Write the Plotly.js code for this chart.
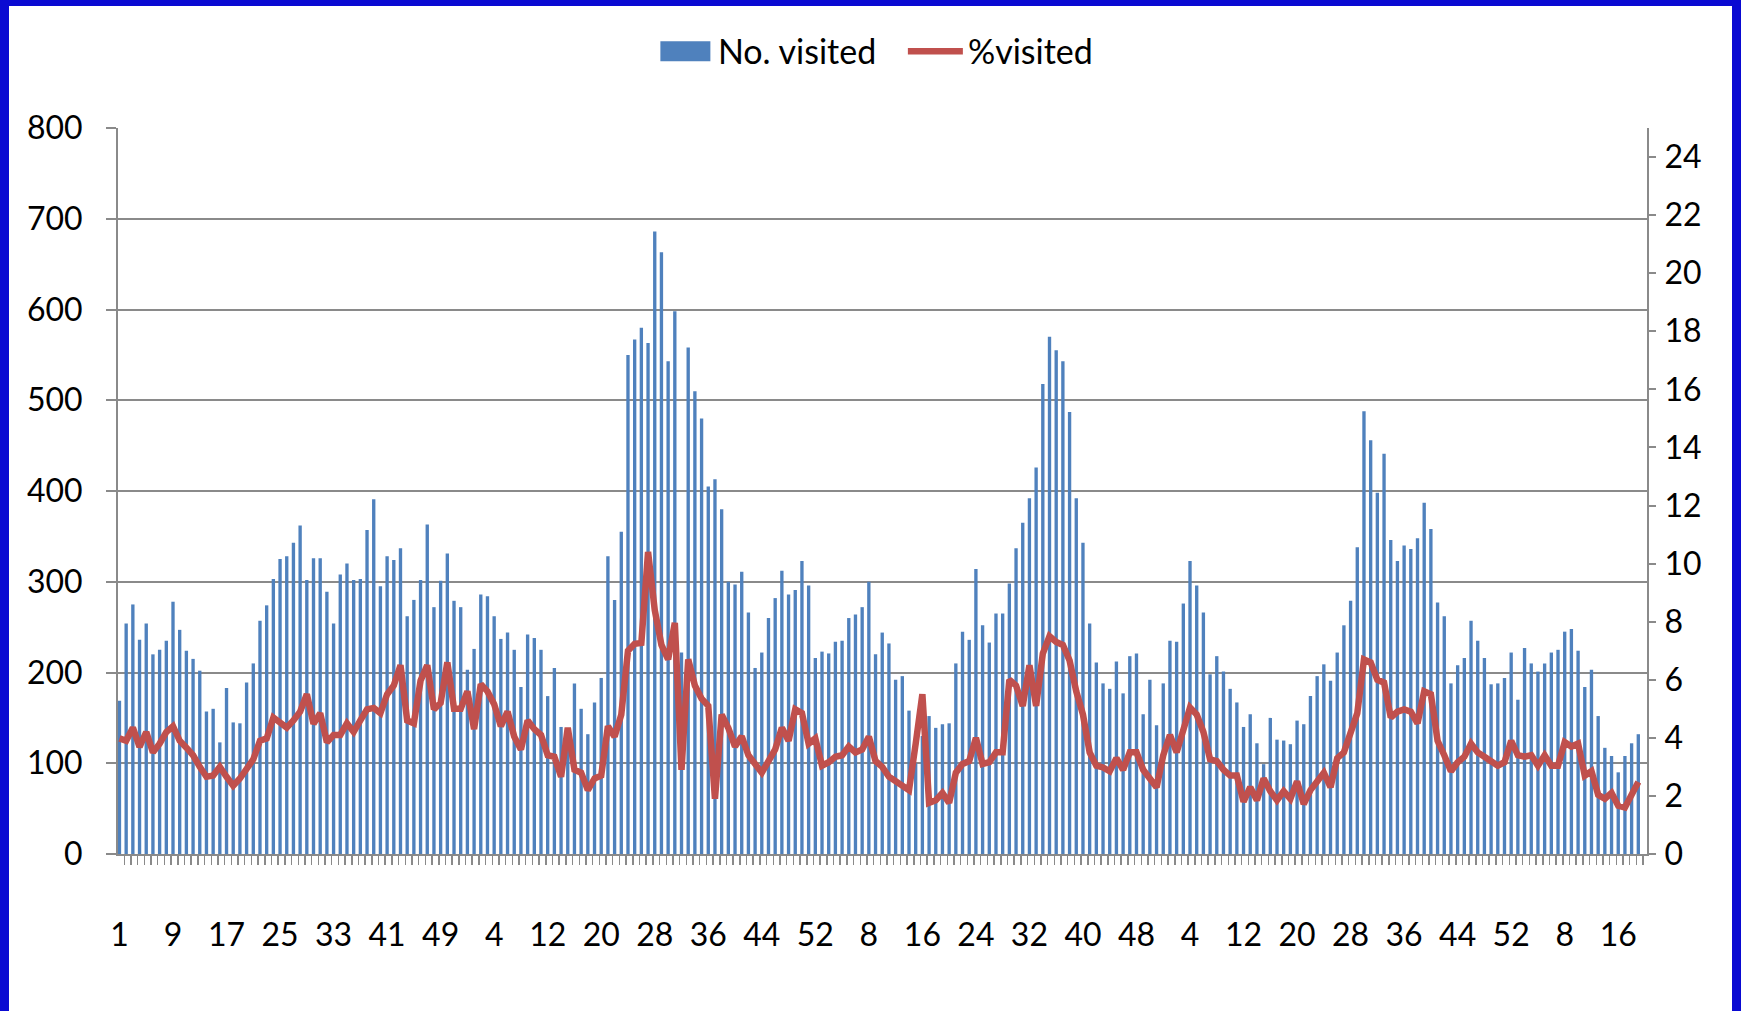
<!DOCTYPE html>
<html>
<head>
<meta charset="utf-8">
<script src="https://cdn.plot.ly/plotly-3.0.1.min.js"></script>
<style>
  html, body { margin: 0; padding: 0; background: #ffffff; }
  #wrap { position: relative; width: 1741px; height: 1011px; overflow: hidden; }
  #chart { position: absolute; left: 0; top: 0; width: 1741px; height: 1011px; }
  #frame { position: absolute; left: 0; top: 0; width: 1741px; height: 1011px; box-sizing: border-box;
           border-left: 9px solid #0a0ad2; border-right: 9px solid #0a0ad2; border-top: 6px solid #0a0ad2;
           pointer-events: none; }
</style>
</head>
<body>
<div id="wrap">
  <div id="chart"></div>
  <div id="frame"></div>
</div>
<script>
// Weeks per year segment shown on the category axis (53-week first year, partial last year)
const yearLengths = [53, 52, 52, 52, 19];

// Tick labels shown every 8th week
const tickLabels = ["1","9","17","25","33","41","49","4","12","20","28","36","44","52",
                    "8","16","24","32","40","48","4","12","20","28","36","44","52","8","16"];

// No. visited (left axis)
const visited = [
  169,254,275,236,254,220,225,235,278,247,224,215,202,157,160,123,183,145,144,189,
  210,257,274,303,325,328,343,362,302,326,326,289,254,308,320,302,303,357,391,295,
  328,324,337,262,280,302,363,272,301,331,279,272,203,226,286,284,262,237,244,225,
  184,242,238,225,174,205,140,120,188,160,132,167,194,328,280,355,550,567,580,563,
  686,663,543,598,222,558,510,480,405,413,380,300,297,311,266,205,222,260,282,312,
  286,291,323,296,216,223,221,234,235,260,264,272,300,220,244,232,192,196,158,100,
  130,152,139,143,144,210,245,236,314,252,233,265,265,298,337,365,392,426,518,570,
  555,543,487,392,343,254,211,188,182,212,177,218,221,154,192,142,188,235,234,276,
  323,296,266,198,218,201,182,167,140,154,122,99,150,126,125,121,147,143,174,196,
  209,191,222,252,279,338,488,456,398,441,346,323,340,336,348,387,358,277,262,188,
  208,216,257,235,216,187,188,194,222,170,227,210,201,210,222,225,245,248,224,184,
  203,152,117,108,90,108,122,132
];

// %visited (right axis)
const pctVisited = [
  3.98,3.9,4.35,3.69,4.2,3.5,3.8,4.2,4.4,3.9,3.66,3.4,3.0,2.66,2.7,3.0,2.66,2.35,2.6,2.9,
  3.26,3.9,3.98,4.7,4.5,4.35,4.6,4.9,5.5,4.48,4.85,3.85,4.1,4.1,4.5,4.2,4.6,4.98,5.03,4.85,
  5.5,5.8,6.5,4.6,4.5,5.97,6.5,4.98,5.2,6.6,5.0,5.0,5.6,4.3,5.85,5.6,5.16,4.4,4.9,4.04,
  3.6,4.6,4.3,4.1,3.4,3.35,2.66,4.35,2.9,2.8,2.2,2.6,2.7,4.4,4.04,4.8,7.0,7.24,7.27,10.4,
  8.4,7.2,6.7,7.96,2.9,6.7,5.8,5.35,5.1,1.9,4.8,4.34,3.7,4.05,3.4,3.1,2.8,3.2,3.6,4.35,
  3.9,4.98,4.85,3.8,3.98,3.04,3.16,3.35,3.4,3.7,3.5,3.6,4.04,3.2,3.0,2.66,2.5,2.4,2.2,3.8,
  5.5,1.76,1.85,2.1,1.76,2.8,3.1,3.2,4.0,3.1,3.16,3.5,3.5,6.0,5.8,5.1,6.5,5.1,6.9,7.5,
  7.3,7.2,6.66,5.6,4.8,3.5,3.04,2.98,2.85,3.3,2.9,3.5,3.5,2.9,2.6,2.3,3.4,4.1,3.5,4.3,
  5.04,4.8,4.2,3.26,3.2,2.9,2.7,2.7,1.8,2.3,1.85,2.6,2.16,1.85,2.16,1.9,2.5,1.72,2.2,2.5,
  2.8,2.3,3.3,3.5,4.2,4.85,6.7,6.6,6.0,5.9,4.7,4.9,4.98,4.9,4.5,5.6,5.5,3.9,3.4,2.85,
  3.16,3.35,3.8,3.5,3.35,3.16,3.04,3.16,3.9,3.4,3.35,3.4,3.04,3.4,3.04,3.04,3.85,3.7,3.8,2.7,
  2.85,2.04,1.9,2.1,1.66,1.6,2.0,2.48
];

// Sequential position of each week on the axis
const xIndex = [];
let k = 0;
yearLengths.forEach(n => { for (let w = 0; w < n; w++) { xIndex.push(k); k++; } });
const tickVals = tickLabels.map((_, i) => i * 8);

const FONT = "Lato, 'Open Sans', 'DejaVu Sans', sans-serif";
const GRID = "#8a8a8a";

const traces = [
  {
    type: "bar", name: "No. visited", x: xIndex, y: visited,
    marker: { color: "#4f81bd", line: { width: 0 } },
    yaxis: "y", hoverinfo: "x+y"
  },
  {
    type: "scatter", mode: "lines", name: "%visited", x: xIndex, y: pctVisited,
    line: { color: "#c0504d", width: 6.5, shape: "linear" },
    yaxis: "y2"
  }
];

const layout = {
  width: 1741, height: 1011,
  paper_bgcolor: "#ffffff", plot_bgcolor: "#ffffff",
  font: { family: FONT, size: 33, color: "#000000" },
  margin: { l: 118, r: 94, t: 128, b: 157, pad: 0 },
  bargap: 0.5,
  showlegend: true,
  legend: {
    orientation: "h", x: 0.375, xanchor: "left", xref: "container",
    y: 0.949, yanchor: "middle", yref: "container",
    font: { family: FONT, size: 34, color: "#000000" },
    itemwidth: 55, entrywidth: 180, bgcolor: "rgba(0,0,0,0)", traceorder: "normal"
  },
  xaxis: {
    type: "linear", range: [-0.22, 228.3],
    tickmode: "array", tickvals: tickVals, ticktext: tickLabels,
    ticks: "", showgrid: false, zeroline: false,
    showline: true, linecolor: GRID, linewidth: 2,
    ticklabelstandoff: 52,
    tickfont: { family: FONT, size: 32, color: "#000000" },
    minor: { tickmode: "linear", tick0: 0.72, dtick: 1, ticks: "outside", ticklen: 9, tickwidth: 1.5, tickcolor: GRID, showgrid: false }
  },
  yaxis: {
    range: [0, 800], dtick: 100, tick0: 0,
    showgrid: true, gridcolor: GRID, gridwidth: 2,
    zeroline: false, showline: true, linecolor: GRID, linewidth: 2,
    ticks: "outside", ticklen: 10, tickwidth: 2, tickcolor: GRID,
    ticklabelstandoff: 17,
    tickfont: { family: FONT, size: 32, color: "#000000" }
  },
  yaxis2: {
    overlaying: "y", side: "right", range: [0, 25], dtick: 2, tick0: 0,
    showgrid: false, zeroline: false, showline: true, linecolor: GRID, linewidth: 2,
    ticks: "outside", ticklen: 7, tickwidth: 2, tickcolor: GRID,
    ticklabelstandoff: 2,
    tickfont: { family: FONT, size: 32, color: "#000000" }
  }
};

Plotly.newPlot("chart", traces, layout, { staticPlot: true, displayModeBar: false }).then(gd => {
  // Widen the bar legend swatch to a rectangle like the original legend key
  const items = gd.querySelectorAll(".legend .traces");
  if (items.length) {
    items[0].querySelectorAll(".legendpoints path").forEach(p => {
      p.setAttribute("d", "M25,10H-25V-10H25Z");
    });
  }
});
</script>
</body>
</html>
